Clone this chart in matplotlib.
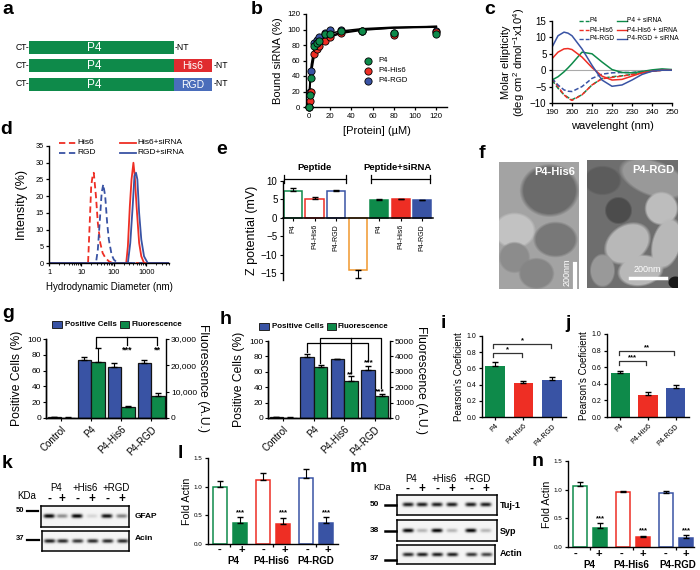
import numpy as np
import matplotlib
matplotlib.use("Agg")
import matplotlib.pyplot as plt
from matplotlib.patches import Rectangle
from matplotlib.transforms import ScaledTranslation

plt.rcParams["font.family"] = ["Liberation Sans", "DejaVu Sans"]
plt.rcParams["mathtext.default"] = "regular"
plt.rcParams["axes.linewidth"] = 1.0

GREEN = "#0e8a4a"
RED = "#ee2e24"
BLUE = "#3953a4"
ORANGE = "#f0972e"
W, H = 700, 570

# b: binding
b_conc = [0, 1, 2.5, 5, 7.5, 10, 15, 20, 30, 50, 80, 120]
b_p4 = [0, 16, 37, 79, 82, 85, 94, 94, 98, 98, 96, 94]
b_his6 = [0, 8, 20, 68, 75, 79, 85, 90, 96, 98, 93, 97]
b_rgd = [0, 20, 46, 83, 86, 90, 95, 99, 100, 98, 95, 98]
b_fit_x = [0, 1, 2.5, 5, 7.5, 10, 15, 20, 30, 50, 80, 120]
b_fit_p4 = [0, 26, 50, 70, 78, 83, 89, 92, 96, 100, 102, 103]
b_fit_his6 = [0, 22, 44, 64, 73, 79, 86, 90, 95, 99, 102, 104]
b_fit_rgd = [0, 30, 55, 75, 82, 87, 92, 95, 98, 101, 103, 104]

# c: circular dichroism
c_wave = [190, 193, 196, 198, 200, 205, 210, 215, 220, 225, 230, 235, 240, 245, 250]
c_p4 = [-3, -5.5, -7.5, -8.3, -9, -7.5, -4.5, -2.5, -2, -1.7, -1.3, -0.8, -0.3, 0, 0]
c_his6 = [-2.5, -5, -7.5, -8.6, -9.2, -7.5, -4.5, -2.6, -2.2, -1.8, -1.3, -0.8, -0.3, 0, 0]
c_rgd = [-2.5, -4.5, -6, -6.4, -6.5, -5, -2.5, -1.2, -0.8, -0.7, -0.7, -0.4, -0.2, 0, 0]
c_p4_si = [-3, -2, -0.5, 0.7, 2, 5.5, 5, 2.5, 0.2, -0.7, -0.8, -0.4, 0.1, 0.4, 0.2]
c_his6_si = [3.5, 5.5, 6.5, 6.6, 6.3, 4, 0.8, -1.8, -3, -2.8, -1.8, -0.8, -0.3, 0, 0]
c_rgd_si = [7, 10.5, 11.6, 11.3, 10.5, 6.5, 1.5, -3, -4.9, -4.5, -3, -1.3, -0.3, 0, 0]

# d: size distribution
d_his6_x = [1, 15, 16, 18, 20, 22, 24, 28, 32, 38, 45, 55, 70, 90, 5000]
d_his6_y = [0, 0, 0, 12, 23, 26, 27, 20, 12, 6, 3, 1.5, 0.5, 0, 0]
d_rgd_x = [1, 28, 32, 37, 42, 47, 54, 62, 70, 85, 100, 130, 5000]
d_rgd_y = [0, 0, 4, 13, 21, 23.5, 20, 12, 7, 2.5, 1, 0, 0]
d_his6_si_x = [1, 240, 270, 310, 350, 400, 440, 500, 600, 700, 850, 5000]
d_his6_si_y = [0, 0, 5, 17, 25, 30, 26, 17, 6, 2, 0, 0]
d_rgd_si_x = [1, 270, 320, 380, 430, 480, 530, 600, 700, 850, 1100, 5000]
d_rgd_si_y = [0, 0, 6, 17, 26, 27, 25, 15, 7, 2, 0, 0]

# e: zeta potential
e_labels = ["P4", "P4-His6", "P4-RGD", "siRNA", "P4", "P4-His6", "P4-RGD"]
e_vals = [7.4, 5.2, 7.2, -14.2, 4.9, 5.0, 4.8]
e_errs = [0.7, 0.4, 0.3, 2.1, 0.2, 0.15, 0.1]
e_edges = [GREEN, RED, BLUE, ORANGE, GREEN, RED, BLUE]
e_fills = ["white", "white", "white", "white", GREEN, RED, BLUE]

# g, h: uptake
group_labels = ["Control", "P4", "P4-His6", "P4-RGD"]
g_pos = [1.5, 74, 64, 70]
g_pos_err = [0.3, 3, 5, 3]
g_fluo = [150, 21200, 4300, 8500]
g_fluo_err = [50, 5400, 150, 1000]
h_pos = [0.8, 79, 76, 62.5]
h_pos_err = [0.2, 4, 1, 5]
h_fluo = [30, 3280, 2400, 1460]
h_fluo_err = [10, 180, 350, 130]

# i, j: Pearson
pearson_labels = ["P4", "P4-His6", "P4-RGD"]
i_vals = [0.63, 0.42, 0.46]
i_errs = [0.05, 0.03, 0.04]
j_vals = [0.535, 0.265, 0.345]
j_errs = [0.02, 0.04, 0.045]

# l, n: western blot quantification
fold_groups = ["P4", "P4-His6", "P4-RGD"]
l_minus = [1.0, 1.12, 1.15]
l_minus_err = [0.1, 0.12, 0.15]
l_plus = [0.37, 0.35, 0.37]
l_plus_err = [0.1, 0.11, 0.1]
n_minus = [1.07, 0.96, 0.95]
n_minus_err = [0.07, 0.01, 0.02]
n_plus = [0.33, 0.17, 0.16]
n_plus_err = [0.08, 0.03, 0.05]

# blots: band strength per lane
gfap_bands = [0.95, 0.4, 0.95, 0.12, 0.9, 0.45]
acin_bands = [0.85, 0.8, 0.75, 0.8, 0.8, 0.8]
tuj_bands = [0.85, 0.85, 0.85, 0.85, 0.85, 0.85]
syp_bands = [0.95, 0.25, 0.95, 0.25, 0.95, 0.25]
actin_bands = [0.8, 0.85, 0.85, 0.85, 0.75, 0.7]

# f: micrograph blobs: cx, cy, rx, ry, angle, gray
tem_his6 = [(15, 68, 20, 17, 0, 0.76), (50, 28, 28, 25, 0, 0.42), (56, 77, 21, 17, 0, 0.47),
            (15, 95, 15, 15, 0, 0.55), (37, 111, 17, 15, 0, 0.52)]
tem_rgd = [(66, 18, 34, 17, 20, 0.6), (31, 50, 13, 13, 0, 0.3), (15, 20, 18, 14, 0, 0.36),
           (40, 83, 24, 18, -35, 0.72), (74, 48, 16, 16, 0, 0.74), (79, 83, 14, 25, 15, 0.72),
           (53, 110, 22, 15, -10, 0.72), (15, 110, 12, 16, 0, 0.6), (88, 122, 7, 6, 0, 0.1)]


def ax_px(left, top, right, bottom):
    return fig.add_axes([left / W, 1 - bottom / H, (right - left) / W, (bottom - top) / H])


def clean(ax, size=6):
    ax.spines["top"].set_visible(False)
    ax.spines["right"].set_visible(False)
    ax.tick_params(labelsize=size, length=2.5, width=0.9, pad=1.5)


def shift_labels(ax, px):
    off = ScaledTranslation(px / 100, 0, fig.dpi_scale_trans)
    for lab in ax.get_xticklabels():
        lab.set_transform(lab.get_transform() + off)


def tem_image(w, h, base, blobs):
    yy, xx = np.mgrid[0:h, 0:w]
    img = np.full((h, w), base, dtype=float)
    for cx, cy, rx, ry, ang, gray in blobs:
        t = np.deg2rad(ang)
        u = (xx - cx) * np.cos(t) + (yy - cy) * np.sin(t)
        v = -(xx - cx) * np.sin(t) + (yy - cy) * np.cos(t)
        r = np.sqrt((u / rx) ** 2 + (v / ry) ** 2)
        a = np.clip((1.08 - r) / 0.16, 0, 1)
        img = img * (1 - a) + gray * a
    return img


def blot(box, lanes, bands):
    left, top, right, bottom = box
    ax = ax_px(left, top, right, bottom)
    yy, xx = np.mgrid[top:bottom:40j, left:right:200j]
    img = np.ones_like(xx) * 0.96
    ymid = (top + bottom) / 2
    for x0, s in zip(lanes, bands):
        img -= s * np.exp(-((xx - x0) / 5.5) ** 4 - ((yy - ymid) / 2.0) ** 2)
    ax.imshow(np.clip(img, 0, 1), cmap="gray", vmin=0, vmax=1, aspect="auto")
    ax.set_xticks([])
    ax.set_yticks([])
    for s in ax.spines.values():
        s.set_linewidth(1.1)


fig = plt.figure(figsize=(7, 5.7), dpi=100)

ov = fig.add_axes([0, 0, 1, 1], zorder=10)
ov.set_xlim(0, W)
ov.set_ylim(H, 0)
ov.axis("off")
ov.patch.set_alpha(0)


def txt(x, y, s, size=7, **kw):
    kw.setdefault("ha", "center")
    kw.setdefault("va", "center")
    ov.text(x, y, s, fontsize=size, **kw)


# panel letters
panel_letters = ["a", "b", "c", "d", "e", "f", "g", "h", "i", "j", "k", "l", "m", "n"]
panel_x = [8, 257, 490, 6, 222, 482, 8, 226, 443, 568, 7, 180, 358, 538]
panel_y = [10, 9, 10, 130, 149, 154, 314, 319, 324, 324, 463, 453, 467, 461]
for s, x, y in zip(panel_letters, panel_x, panel_y):
    txt(x, y, s, size=14, fontweight="bold")

# a: constructs
for y0, tail, col, end in [(41, None, None, "-NT"), (59, "His6", "#e02b2f", "-NT"), (78, "RGD", "#4a6dbb", "-NT")]:
    ov.add_patch(Rectangle((29, y0), 145, 12.5, color="#0e8a4a", lw=0))
    txt(94, y0 + 7, "P4", size=8.5, color="white")
    txt(22, y0 + 6, "CT-", size=6.2)
    if tail:
        ov.add_patch(Rectangle((174, y0), 38, 12.5, color=col, lw=0))
        txt(193, y0 + 7, tail, size=7.5, color="white")
        txt(221, y0 + 6, end, size=6.2)
    else:
        txt(182, y0 + 6, end, size=6.2)

# b
ax = ax_px(306, 14, 447, 107)
ax.set_xlim(-2.5, 130)
ax.set_ylim(0, 120)
clean(ax, 5.6)
ax.set_xticks([0, 20, 40, 60, 80, 100, 120])
ax.set_yticks([0, 20, 40, 60, 80, 100, 120])
for fit in [b_fit_his6, b_fit_rgd, b_fit_p4]:
    ax.plot(b_fit_x, fit, color="black", lw=1.1, zorder=2)
for vals, col, name in [(b_rgd, BLUE, "P4-RGD"), (b_his6, RED, "P4-His6"), (b_p4, GREEN, "P4")]:
    ax.plot(b_conc, vals, "o", color=col, mec="black", mew=0.6, ms=5.2, clip_on=False, zorder=3, label=name)
ax.set_xlabel("[Protein] (µM)", fontsize=8, labelpad=5)
ax.set_ylabel("Bound siRNA (%)", fontsize=8, labelpad=3)
for y0, col, name in [(61, GREEN, "P4"), (71, RED, "P4-His6"), (81, BLUE, "P4-RGD")]:
    ov.plot(368, y0, "o", color=col, mec="black", mew=0.6, ms=5.2)
    txt(378, y0, name, size=5.6, ha="left")

# c
ax = ax_px(552, 21, 672, 103)
ax.set_xlim(190, 250)
ax.set_ylim(-10, 15)
clean(ax, 5.8)
ax.tick_params(axis="y", labelsize=7)
ax.set_xticks(range(190, 251, 10))
ax.set_yticks([-10, -5, 0, 5, 10, 15])
ax.axhline(0, color="#aaaaaa", lw=0.8)
for vals, col, ls in [(c_p4, GREEN, "--"), (c_his6, RED, "--"), (c_rgd, BLUE, "--"),
                      (c_p4_si, GREEN, "-"), (c_his6_si, RED, "-"), (c_rgd_si, BLUE, "-")]:
    ax.plot(c_wave, vals, color=col, ls=ls, lw=1.1, dashes=(3, 1.5) if ls == "--" else (None, None))
ax.set_xlabel("wavelenght (nm)", fontsize=8, labelpad=4)
ax.set_ylabel("Molar ellipticity\n(deg cm$^2$ dmol$^{-1}$x10$^4$)", fontsize=8, labelpad=2, linespacing=1.0)
for y0, a, b, col in [(21, "P4", "P4 + siRNA", GREEN), (30, "P4-His6", "P4-His6 + siRNA", RED),
                      (39, "P4-RGD", "P4-RGD + siRNA", BLUE)]:
    ov.plot([579, 589], [y0, y0], color=col, lw=1, ls="--", dashes=(3, 1.5))
    txt(590, y0, a, size=4.8, ha="left")
    ov.plot([617, 627], [y0, y0], color=col, lw=1)
    txt(627, y0, b, size=4.8, ha="left")

# d
ax = ax_px(49, 146, 169, 263)
ax.set_xscale("log")
ax.set_xlim(1, 5000)
ax.set_ylim(0, 35)
clean(ax, 5.3)
ax.set_xticks([1, 10, 100, 1000])
ax.set_xticklabels(["1", "10", "100", "1000"])
ax.set_yticks(range(0, 36, 5))
ax.tick_params(which="minor", length=1.5, width=0.6)
ax.plot(d_his6_x, d_his6_y, color=RED, ls="--", lw=1.3, dashes=(3.5, 2))
ax.plot(d_rgd_x, d_rgd_y, color=BLUE, ls="--", lw=1.3, dashes=(3.5, 2))
ax.plot(d_his6_si_x, d_his6_si_y, color=RED, lw=1.3)
ax.plot(d_rgd_si_x, d_rgd_si_y, color=BLUE, lw=1.3)
ax.set_xlabel("Hydrodynamic Diameter (nm)", fontsize=7, labelpad=5)
ax.set_ylabel("Intensity (%)", fontsize=9, labelpad=5)
for y0, xa, name, col, ls in [(143, 59, "His6", RED, "--"), (153, 59, "RGD", BLUE, "--")]:
    ov.plot([xa, xa + 17], [y0, y0], color=col, lw=1.3, ls=ls, dashes=(3.5, 2))
    txt(xa + 18, y0, name, size=6, ha="left")
for y0, name, col in [(143, "His6+siRNA", RED), (153, "RGD+siRNA", BLUE)]:
    ov.plot([120, 136], [y0, y0], color=col, lw=1.3)
    txt(137, y0, name, size=6, ha="left")

# e
ax = ax_px(283, 181, 433, 280)
ax.set_xlim(-0.47, 6.5)
ax.set_ylim(-16.8, 10)
ax.spines["top"].set_visible(False)
ax.spines["right"].set_visible(False)
ax.spines["bottom"].set_position(("data", 0))
ax.spines["bottom"].set_linewidth(1.1)
ax.bar(range(7), e_vals, width=0.85, color=e_fills, edgecolor=e_edges, lw=1.1, zorder=2)
for i in range(7):
    if e_vals[i] > 0:
        ax.errorbar(i, e_vals[i], yerr=[[0], [e_errs[i]]], color="black", capsize=2.2, lw=0.8, zorder=3)
    else:
        ax.errorbar(i, e_vals[i], yerr=[[e_errs[i]], [0]], color="black", capsize=2.2, lw=0.8, zorder=3)
ax.set_xticks(range(7))
ax.set_xticklabels(e_labels, rotation=90, fontsize=5)
ax.set_yticks([-15, -10, -5, 0, 5, 10])
ax.tick_params(axis="y", labelsize=7, length=2.5, pad=1.5)
ax.tick_params(axis="x", length=2.5, pad=2)
ax.set_ylabel("Z potential (mV)", fontsize=9, labelpad=2)
for x1, x2, x3, name in [(284, 346, 315, "Peptide"), (371, 430, 397, "Peptide+siRNA")]:
    ov.plot([x1, x2], [179, 179], color="black", lw=0.9)
    ov.plot([x1, x1], [175, 183], color="black", lw=0.9)
    ov.plot([x2, x2], [175, 183], color="black", lw=0.9)
    txt(x3, 168, name, size=6.8, fontweight="bold")

# f
ax = ax_px(499, 162, 579, 289)
ax.imshow(tem_image(80, 127, 0.64, tem_his6), cmap="gray", vmin=0, vmax=1, aspect="auto")
ax.axis("off")
ax = ax_px(587, 160, 678, 288)
ax.imshow(tem_image(91, 128, 0.43, tem_rgd), cmap="gray", vmin=0, vmax=1, aspect="auto")
ax.axis("off")
txt(555, 172, "P4-His6", size=8, color="white", fontweight="bold")
txt(653, 170, "P4-RGD", size=8, color="white", fontweight="bold")
ov.plot([574.5, 574.5], [264, 287], color="white", lw=3)
txt(567, 272, "200nm", size=6.5, color="white", rotation=90)
ov.plot([630, 666], [278, 278], color="white", lw=2.5)
txt(647, 270, "200nm", size=6.5, color="white")


def uptake(box, left_vals, left_err, right_vals, right_err, right_max, right_ticks, right_text, right_pad):
    ax = ax_px(*box)
    ax.set_xlim(-0.5, 3.5)
    ax.set_ylim(0, 100)
    ax.spines["top"].set_visible(False)
    ax.spines["right"].set_visible(False)
    x = np.arange(4)
    ax.bar(x - 0.225, left_vals, width=0.45, color=BLUE, edgecolor="#141414", lw=0.9)
    ax.errorbar(x - 0.225, left_vals, yerr=[[0] * 4, left_err], ls="none", color="black", capsize=2.5, lw=0.8)
    ax.set_xticks(x)
    ax.set_xticklabels(group_labels, rotation=45, ha="right", rotation_mode="anchor", fontsize=7)
    shift_labels(ax, 6)
    ax.set_yticks([0, 20, 40, 60, 80, 100])
    ax.tick_params(axis="y", labelsize=6, length=2.5, pad=1)
    ax.tick_params(axis="x", length=2.5, pad=2)
    ax.set_ylabel("Positive Cells (%)", fontsize=8.7, labelpad=3)
    ax2 = ax.twinx()
    ax2.set_ylim(0, right_max)
    ax2.spines["top"].set_visible(False)
    ax2.bar(x + 0.225, right_vals, width=0.45, color=GREEN, edgecolor="#141414", lw=0.9)
    ax2.errorbar(x + 0.225, right_vals, yerr=[[0] * 4, right_err], ls="none", color="black", capsize=2.5, lw=0.8)
    ax2.set_yticks(right_ticks)
    ax2.set_yticklabels(right_text)
    ax2.tick_params(axis="y", labelsize=6, length=2.5, pad=1)
    ax2.set_ylabel("Fluorescence (A.U.)", fontsize=8.7, rotation=270, labelpad=right_pad, va="bottom")


uptake((46, 339, 166, 418), g_pos, g_pos_err, g_fluo, g_fluo_err, 30000,
       [0, 10000, 20000, 30000], ["0", "10,000", "20,000", "30,000"], 0)
uptake((268, 341, 390, 418), h_pos, h_pos_err, h_fluo, h_fluo_err, 5000,
       [0, 1000, 2000, 3000, 4000, 5000], ["0", "1000", "2000", "3000", "4000", "5000"], 1)

for x1, x2, y0, xt1 in [(52, 120, 324, 65), (259, 327, 326, 272)]:
    ov.add_patch(Rectangle((x1, y0 - 3), 10, 6.5, fc=BLUE, ec="#222222", lw=0.7))
    txt(xt1, y0, "Positive Cells", size=5.7, ha="left", fontweight="bold")
    ov.add_patch(Rectangle((x2, y0 - 3), 9, 6.5, fc=GREEN, ec="#222222", lw=0.7))
    txt(x2 + 11, y0, "Fluorescence", size=5.7, ha="left", fontweight="bold")

# g brackets
ov.plot([96, 96, 157, 157], [347, 337, 337, 345], color="black", lw=0.9)
ov.plot([127, 127], [337, 345], color="black", lw=0.9)
txt(127, 350, "***", size=6.5, fontweight="bold")
txt(157, 350, "**", size=6.5, fontweight="bold")

# h brackets
ov.plot([320, 320, 381, 381], [363, 338, 338, 388], color="black", lw=0.9)
ov.plot([307, 307, 368, 368], [352, 343, 343, 361], color="black", lw=0.9)
ov.plot([351, 351], [338, 373], color="black", lw=0.9)
txt(350, 375, "**", size=6, fontweight="bold")
txt(369, 363, "***", size=6, fontweight="bold")
txt(380, 392, "***", size=6, fontweight="bold")


def pearson(box, lim, vals, errs):
    ax = ax_px(*box)
    ax.set_xlim(*lim)
    ax.set_ylim(0, 1)
    clean(ax, 5)
    ax.bar(range(3), vals, width=0.7, color=[GREEN, RED, BLUE])
    ax.errorbar(range(3), vals, yerr=[[0] * 3, errs], ls="none", color="black", capsize=2.5, lw=0.8)
    ax.set_xticks(range(3))
    ax.set_xticklabels(pearson_labels, rotation=45, ha="right", rotation_mode="anchor", fontsize=5.2)
    ax.set_yticks([0, 0.2, 0.4, 0.6, 0.8, 1.0])
    ax.set_ylabel("Pearson's Coeficient", fontsize=7, labelpad=1.5)


pearson((482, 336, 566, 417), (-0.46, 2.5), i_vals, i_errs)
pearson((607, 334, 689, 417), (-0.49, 2.49), j_vals, j_errs)
for x1, x2, y0, star in [(493, 551, 344, "*"), (493, 522, 353, "*"), (619, 674, 351, "**"), (619, 646, 361, "***")]:
    ov.plot([x1, x1, x2, x2], [y0 + 4, y0, y0, y0 + 4], color="#333333", lw=0.9)
    txt((x1 + x2) / 2, y0 - 3, star, size=5.5, fontweight="bold")


def fold(box, lim, minus, minus_err, plus, plus_err):
    ax = ax_px(*box)
    ax.set_xlim(*lim)
    ax.set_ylim(0, 1.5)
    clean(ax, 4.5)
    x = np.arange(3)
    cols = [GREEN, RED, BLUE]
    ax.bar(x - 0.24, minus, width=0.33, color="white", edgecolor=cols, lw=1.1)
    ax.bar(x + 0.24, plus, width=0.33, color=cols, edgecolor=cols, lw=1.1)
    ax.errorbar(x - 0.24, minus, yerr=[[0] * 3, minus_err], ls="none", color="black", capsize=2.5, lw=0.8)
    ax.errorbar(x + 0.24, plus, yerr=[[0] * 3, plus_err], ls="none", color="black", capsize=2.5, lw=0.8)
    for i in range(3):
        ax.text(i + 0.24, plus[i] + plus_err[i] + 0.02, "***", ha="center", va="bottom", fontsize=5.5, fontweight="bold")
    ax.set_xticks(x)
    ax.set_xticklabels([])
    ax.set_yticks([0, 0.5, 1.0, 1.5])
    ax.set_yticklabels(["0.0", "0.5", "1.0", "1.5"])
    ax.set_ylabel("Fold Actin", fontsize=7.7, labelpad=1.5)


fold((208, 458, 338, 544), (-0.51, 2.51), l_minus, l_minus_err, l_plus, l_plus_err)
fold((568, 461, 694, 547), (-0.51, 2.42), n_minus, n_minus_err, n_plus, n_plus_err)
for xs, y0, labels_x, y1 in [([219, 242, 264, 285, 307, 328], 550, [233, 271, 316], 561),
                             ([576, 599, 622, 643, 665, 686], 554, [589, 631, 678], 565)]:
    for i, x0 in enumerate(xs):
        txt(x0, y0, "-" if i % 2 == 0 else "+", size=8, fontweight="bold")
    for x0, name in zip(labels_x, fold_groups):
        txt(x0, y1, name, size=7, fontweight="bold")

# k
k_lanes = [49, 62, 77, 92, 107, 122]
blot((41, 506, 129, 527), k_lanes, gfap_bands)
blot((41.5, 531, 129, 551), k_lanes, acin_bands)
for x0, name in [(56, "P4"), (85, "+His6"), (116, "+RGD")]:
    txt(x0, 488, name, size=7)
txt(27, 496, "KDa", size=7)
for i, x0 in enumerate(k_lanes):
    txt(x0, 499, "-" if i % 2 == 0 else "+", size=8.5, fontweight="bold")
txt(20, 510, "50", size=5.5, fontweight="bold")
ov.plot([27, 38], [511, 511], color="black", lw=1.6)
txt(20, 539, "37", size=5.5, fontweight="bold")
ov.plot([27, 39], [540, 540], color="black", lw=1.6)
txt(135, 516, "GFAP", size=6, ha="left", fontweight="bold")
txt(135, 538, "Acin", size=6, ha="left", fontweight="bold")

# m
m_lanes = [408, 422, 437, 452, 471, 486]
blot((397, 495, 497, 515), m_lanes, tuj_bands)
blot((397, 520, 497, 541), m_lanes, syp_bands)
blot((397, 545, 495, 564), m_lanes, actin_bands)
for x0, name in [(411, "P4"), (444, "+His6"), (477, "+RGD")]:
    txt(x0, 479, name, size=7)
txt(382, 488, "KDa", size=6.5)
for i, x0 in enumerate(m_lanes):
    txt(x0, 489, "-" if i % 2 == 0 else "+", size=8.5, fontweight="bold")
for y0, name in [(504, "50"), (530, "38"), (559, "37")]:
    txt(374, y0, name, size=6, fontweight="bold")
    ov.plot([385, 396], [y0 + 1, y0 + 1], color="black", lw=1.8)
for y0, name in [(505, "Tuj-1"), (531, "Syp"), (554, "Actin")]:
    txt(500, y0, name, size=6.5, ha="left", fontweight="bold")

fig.savefig("out.png", dpi=100)
